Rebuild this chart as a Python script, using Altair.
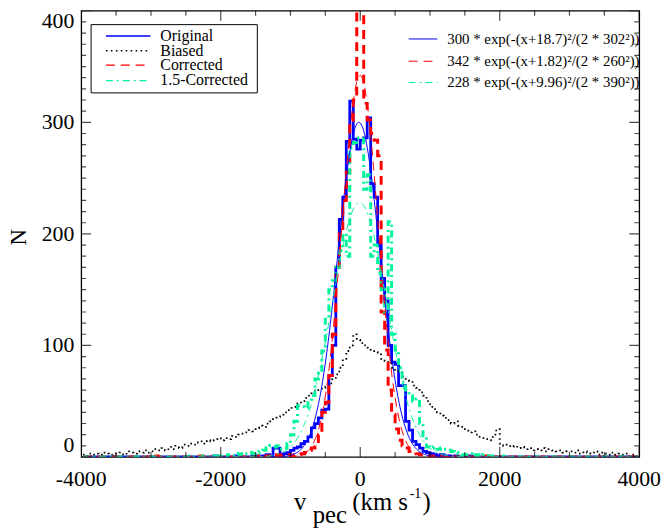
import altair as alt
import numpy as np
import pandas as pd

# ------------------------------------------------------------------ data
bin_width = 50
bin_centers = list(range(-3975, 4000, bin_width))  # 160 bins of 50 km/s

original = sum([
    [0, 0, 0, 0, 0, 0, 0, 0, 0, 0],
    [0, 0, 0, 0, 0, 0, 0, 0, 0, 0],
    [0, 0, 0, 0, 0, 0, 0, 0, 0, 0],
    [0, 0, 0, 0, 0, 0, 0, 0, 1, 0],
    [0, 0, 0, 0, 1, 0, 0, 0, 0, 1],
    [1, 0, 1, 2, 1, 8, 8, 2, 3, 4],
    [6, 8, 9, 12, 14, 18, 26, 30, 35, 42],
    [43, 73, 100, 170, 213, 233, 283, 319, 285, 276],
    [284, 286, 304, 245, 233, 190, 160, 140, 100, 85],
    [83, 64, 64, 32, 24, 14, 11, 8, 5, 4],
    [3, 2, 1, 2, 1, 1, 0, 1, 0, 0],
    [0, 1, 0, 0, 0, 0, 0, 0, 0, 0],
    [0, 0, 0, 0, 0, 0, 0, 0, 0, 0],
    [0, 0, 0, 0, 0, 0, 0, 0, 0, 0],
    [0, 0, 0, 0, 0, 0, 0, 0, 0, 0],
    [0, 0, 0, 0, 0, 0, 0, 0, 0, 0],
], [])

biased = sum([
    [2, 1, 3, 2, 3, 2, 4, 3, 2, 3],
    [3, 4, 2, 5, 4, 3, 5, 4, 6, 4],
    [5, 7, 6, 8, 6, 9, 7, 10, 8, 11],
    [10, 12, 11, 13, 14, 12, 15, 14, 16, 17],
    [15, 17, 16, 19, 18, 20, 21, 22, 24, 23],
    [26, 28, 27, 30, 32, 34, 36, 38, 40, 42],
    [44, 45, 48, 50, 53, 55, 57, 59, 60, 62],
    [63, 66, 70, 74, 80, 88, 95, 100, 110, 105],
    [102, 100, 98, 96, 94, 92, 88, 86, 84, 80],
    [78, 76, 72, 70, 68, 64, 62, 58, 55, 50],
    [45, 43, 40, 37, 35, 33, 30, 32, 28, 27],
    [25, 22, 23, 20, 18, 17, 16, 15, 20, 25],
    [12, 10, 11, 9, 10, 8, 9, 7, 8, 6],
    [7, 6, 8, 5, 7, 6, 5, 6, 4, 5],
    [5, 4, 6, 3, 5, 4, 3, 5, 2, 4],
    [3, 2, 4, 2, 3, 2, 3, 1, 2, 1],
], [])

corrected = sum([
    [0, 0, 0, 0, 0, 0, 0, 0, 0, 0],
    [0, 0, 0, 0, 0, 0, 0, 0, 0, 0],
    [2, 1, 0, 0, 0, 0, 0, 0, 0, 0],
    [0, 0, 0, 0, 1, 0, 0, 0, 0, 0],
    [0, 0, 0, 0, 0, 1, 0, 0, 0, 0],
    [0, 1, 0, 1, 0, 1, 2, 1, 1, 2],
    [1, 2, 2, 3, 4, 6, 8, 12, 20, 40],
    [49, 73, 110, 170, 200, 230, 255, 300, 320, 420],
    [430, 317, 302, 290, 284, 270, 130, 96, 60, 38],
    [25, 15, 10, 8, 5, 4, 3, 2, 2, 1],
    [1, 0, 1, 0, 0, 1, 0, 0, 0, 0],
    [0, 0, 0, 0, 0, 0, 1, 0, 0, 0],
    [0, 0, 0, 0, 0, 0, 0, 0, 0, 0],
    [0, 0, 0, 0, 0, 0, 0, 0, 0, 0],
    [0, 0, 0, 0, 0, 0, 0, 0, 0, 0],
    [0, 0, 0, 0, 0, 0, 0, 0, 0, 0],
], [])

corrected_15 = sum([
    [0, 0, 0, 0, 0, 0, 0, 0, 0, 0],
    [0, 0, 0, 0, 0, 0, 0, 0, 0, 0],
    [0, 0, 0, 0, 0, 0, 0, 0, 0, 0],
    [0, 1, 0, 0, 0, 1, 0, 0, 1, 0],
    [1, 0, 2, 1, 2, 3, 2, 3, 4, 3],
    [4, 5, 6, 8, 10, 9, 10, 7, 8, 12],
    [20, 32, 46, 45, 44, 50, 55, 70, 75, 95],
    [125, 150, 158, 170, 185, 200, 180, 277, 282, 286],
    [285, 240, 253, 180, 190, 165, 150, 130, 211, 110],
    [96, 80, 67, 60, 55, 50, 52, 30, 19, 9],
    [8, 9, 7, 8, 7, 6, 5, 4, 3, 2],
    [2, 3, 1, 2, 1, 2, 1, 1, 0, 0],
    [1, 0, 0, 0, 0, 0, 0, 0, 0, 0],
    [0, 0, 0, 0, 0, 0, 0, 0, 0, 0],
    [0, 0, 0, 0, 0, 0, 0, 0, 0, 0],
    [0, 0, 0, 0, 0, 0, 0, 0, 0, 0],
], [])

hist_labels = ["Original", "Biased", "Corrected", "1.5-Corrected"]

# Gaussian fits quoted in the chart's legend
fit_amp = [300, 342, 228]
fit_shift = [18.7, 1.82, 9.96]
fit_sigma = [302, 260, 390]
fit_labels = [
    "300 * exp(-(x+18.7)\u00b2/(2 * 302\u00b2))",
    "342 * exp(-(x+1.82)\u00b2/(2 * 260\u00b2))",
    "228 * exp(-(x+9.96)\u00b2/(2 * 390\u00b2))",
]

x_label_values = [-4000, -2000, 0, 2000, 4000]
x_tick_labels = ["-4000", "-2000", "0", "2000", "4000"]
y_label_values = [0, 100, 200, 300, 400]
y_tick_labels = ["0", "100", "200", "300", "400"]
x_minor_values = [v for v in range(-4000, 4001, 500) if v % 2000 != 0]
y_minor_values = [v for v in range(0, 401, 10) if v % 100 != 0]

# ------------------------------------------------------------------ style
FONT = "Liberation Serif"
W, H = 564, 451
LABEL_SIZE = 22
BLUE, RED, GREEN, BLACK = "#0000ff", "#ff0000", "#00f59a", "#000000"
DASH = [9, 6]
DASHDOT = [7, 4, 2, 4]
DOT = [1.6, 3.4]

hist_df = pd.DataFrame({
    "v": bin_centers,
    "Original": original,
    "Biased": biased,
    "Corrected": corrected,
    "Corrected15": corrected_15,
})

fit_x = np.arange(-4000, 4001, 10)
fit_df = pd.DataFrame({"x": fit_x})
for i in range(3):
    fit_df[f"f{i}"] = fit_amp[i] * np.exp(-(fit_x + fit_shift[i]) ** 2 / (2 * fit_sigma[i] ** 2))

xscale = alt.Scale(domain=[-4000, 4000], nice=False, zero=False)
yscale = alt.Scale(domain=[0, 400], nice=False, zero=False)


def hist_layer(col, color, width, dash=None):
    mk = dict(interpolate="step", clip=True, color=color, strokeWidth=width)
    if dash is not None:
        mk["strokeDash"] = dash
    return alt.Chart(hist_df).mark_line(**mk).encode(
        x=alt.X("v:Q", scale=xscale, axis=None),
        y=alt.Y(f"{col}:Q", scale=yscale, axis=None),
    )


def fit_layer(i, color, dash=None):
    mk = dict(clip=True, color=color, strokeWidth=1)
    if dash is not None:
        mk["strokeDash"] = dash
    return alt.Chart(fit_df).mark_line(**mk).encode(
        x=alt.X("x:Q", scale=xscale, axis=None),
        y=alt.Y(f"f{i}:Q", scale=yscale, axis=None),
    )


def y_ticks(values, size, edge):
    return alt.Chart(pd.DataFrame({"t": values})).mark_tick(
        orient="horizontal", size=size, thickness=1.2, color="black", clip=True
    ).encode(
        x=alt.XDatum(edge, type="quantitative", scale=xscale, axis=None),
        y=alt.Y("t:Q", scale=yscale, axis=None),
    )


def x_ticks(values, size, edge):
    return alt.Chart(pd.DataFrame({"t": values})).mark_tick(
        orient="vertical", size=size, thickness=1.2, color="black", clip=True
    ).encode(
        x=alt.X("t:Q", scale=xscale, axis=None),
        y=alt.YDatum(edge, type="quantitative", scale=yscale, axis=None),
    )


one = pd.DataFrame({"k": [0]})


def legend_row(label, x1, x2, tx, y, color, width, size, dash=None):
    mk = dict(color=color, strokeWidth=width)
    if dash is not None:
        mk["strokeDash"] = dash
    d = pd.DataFrame({"label": [label]})
    line = alt.Chart(d).mark_rule(**mk).encode(
        x=alt.value(x1), x2=alt.value(x2), y=alt.value(y))
    txt = alt.Chart(d).mark_text(align="left", baseline="middle", font=FONT,
                                 fontSize=size, color="black").encode(
        x=alt.value(tx), y=alt.value(y), text="label:N")
    return [line, txt]


def text_piece(s, x, y, size, angle=None, align="left", baseline="alphabetic"):
    mk = dict(align=align, baseline=baseline, font=FONT, fontSize=size, color="black")
    if angle is not None:
        mk["angle"] = angle
    return alt.Chart(pd.DataFrame({"s": [s]})).mark_text(**mk).encode(
        x=alt.value(x), y=alt.value(y), text="s:N")


# tick labels, placed through the scales
xlab_df = pd.DataFrame({"v": x_label_values, "lab": x_tick_labels})
ylab_df = pd.DataFrame({"v": y_label_values, "lab": y_tick_labels})

x_labels = alt.Chart(xlab_df).mark_text(
    align="center", baseline="top", font=FONT, fontSize=LABEL_SIZE, color="black"
).encode(x=alt.X("v:Q", scale=xscale, axis=None), y=alt.value(H + 12), text="lab:N")


def y_label_layer(cond, baseline):
    return alt.Chart(ylab_df).transform_filter(cond).mark_text(
        align="right", baseline=baseline, font=FONT, fontSize=LABEL_SIZE, color="black"
    ).encode(x=alt.value(-7), y=alt.Y("v:Q", scale=yscale, axis=None), text="lab:N")


layers = [
    hist_layer("Original", BLUE, 2.8),
    hist_layer("Biased", BLACK, 1.8, DOT),
    hist_layer("Corrected", RED, 3, DASH),
    hist_layer("Corrected15", GREEN, 3, DASHDOT),
    fit_layer(0, BLUE),
    fit_layer(1, RED, DASH),
    fit_layer(2, GREEN, DASHDOT),
    y_ticks(y_label_values, 20, -4000),
    y_ticks(y_minor_values, 10, -4000),
    y_ticks(y_label_values, 20, 4000),
    y_ticks(y_minor_values, 10, 4000),
    x_ticks(x_label_values, 20, 0),
    x_ticks(x_minor_values, 10, 0),
    x_ticks(x_label_values, 20, 400),
    x_ticks(x_minor_values, 10, 400),
    x_labels,
    y_label_layer("datum.v > 0 && datum.v < 400", "middle"),
    y_label_layer("datum.v == 0", "bottom"),
    y_label_layer("datum.v == 400", "top"),
    alt.Chart(one).mark_rect(fill="white", stroke="black", strokeWidth=1).encode(
        x=alt.value(10), x2=alt.value(178), y=alt.value(14), y2=alt.value(83)),
]

# left legend (histograms)
left_styles = [(BLUE, 1.3, None), (BLACK, 1.5, DOT), (RED, 1.3, DASH), (GREEN, 1.3, DASHDOT)]
left_rows_y = [25.5, 40.5, 55, 70.5]
for lab, (c, w, d), yy in zip(hist_labels, left_styles, left_rows_y):
    layers += legend_row(lab, 25, 70, 80, yy, c, w, 16, d)

# right legend (fits)
right_styles = [(BLUE, 1, None), (RED, 1, DASH), (GREEN, 1, DASHDOT)]
right_rows_y = [28.5, 51, 72.5]
for lab, (c, w, d), yy in zip(fit_labels, right_styles, right_rows_y):
    layers += legend_row(lab, 331, 360, 370, yy, c, w, 15, d)

# axis titles
layers += [
    text_piece("v", 215, 505, 25),
    text_piece("pec", 234, 518, 25),
    text_piece("(km s", 274, 505, 25),
    text_piece("-1", 332, 492, 14),
    text_piece(")", 345, 505, 25),
    text_piece("N", -63, 229, 23, angle=270, align="center", baseline="middle"),
]

chart = alt.layer(*layers).properties(
    width=W,
    height=H,
    autosize=alt.AutoSizeParams(type="none"),
    padding={"left": 74, "top": 0, "right": 22, "bottom": 72},
).configure_view(stroke="black", strokeWidth=1.3)

chart.save("out.html", embed_options={"renderer": "svg", "actions": False})
